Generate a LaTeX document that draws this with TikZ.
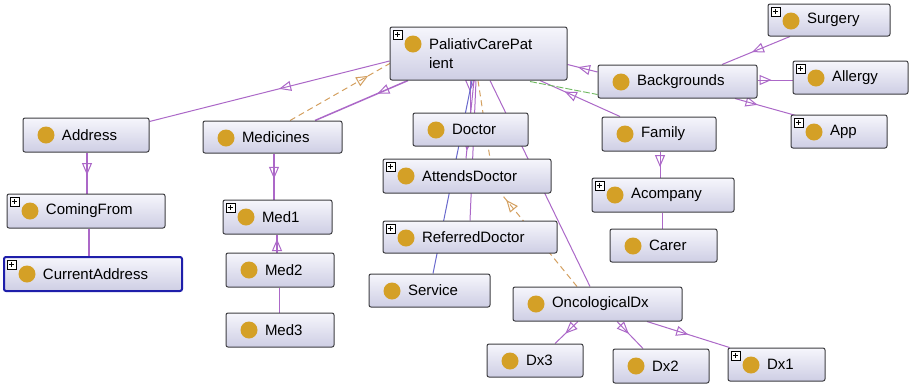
\documentclass[tikz,border=0pt]{standalone}
\usepackage{fontspec}
\setmainfont{Liberation Sans}
\usepackage{tikz}
\usetikzlibrary{arrows.meta,calc,decorations.markings}
\definecolor{edgePurple}{RGB}{172,104,200}
\definecolor{dashOrange}{RGB}{212,160,96}
\definecolor{linkGreen}{RGB}{110,185,95}
\definecolor{serviceBlue}{RGB}{105,105,205}
\definecolor{dotGold}{RGB}{212,160,38}
\definecolor{boxTop}{RGB}{246,246,252}
\definecolor{boxBottom}{RGB}{206,206,228}
\definecolor{boxBorder}{RGB}{62,62,66}
\definecolor{selBlue}{RGB}{30,30,170}
\newcommand{\lbl}[1]{\hspace*{39pt}#1}
\newcommand{\dotpic}{\fill[dotGold] ([xshift=23pt,yshift=-17pt]path picture bounding box.north west) circle (8.5pt);}
\newcommand{\pluspic}{%
  \draw[black,line width=0.6pt,fill=white,sharp corners] ([xshift=3pt,yshift=-3pt]path picture bounding box.north west) rectangle ++(9pt,-9pt);
  \draw[black,line width=0.8pt] ([xshift=4.8pt,yshift=-7.5pt]path picture bounding box.north west) -- ++(5.4pt,0pt);
  \draw[black,line width=0.8pt] ([xshift=7.5pt,yshift=-4.8pt]path picture bounding box.north west) -- ++(0pt,-5.4pt);}
\pgfdeclarelayer{bg}
\pgfsetlayers{bg,main}
\tikzset{
  font=\fontsize{15}{19}\selectfont,
  opentri/.tip={Triangle[open,length=12pt,width=10pt,line width=1pt]},
  cls/.style={draw=boxBorder,line width=1pt,rounded corners=2pt,top color=boxTop,bottom color=boxBottom,text width=#1,align=left,inner xsep=0pt,inner ysep=2pt,minimum height=33pt,path picture={\dotpic}},
  clsplus/.style={cls=#1,path picture={\dotpic\pluspic}},
  link/.style={edgePurple,line width=1pt},
  isa/.style={link,postaction={decorate},decoration={markings,mark=at position #1 with {\arrow{opentri}}}},
  dashlink/.style={dashOrange,line width=1pt,dash pattern=on 6pt off 4pt},
  dashisa/.style={dashlink,postaction={decorate},decoration={markings,mark=at position #1 with {\arrow{opentri}}}},
}
\begin{document}
\begin{tikzpicture}[x=1pt,y=-1pt]
  \useasboundingbox (0,0) rectangle (912,384);
  % classes
  \node (patient) [clsplus=177pt,minimum height=53pt] at (478.5,53.5) {\lbl{PaliativCarePat}\\\lbl{ient}};
  \node (surgery) [clsplus=122pt,minimum height=32pt] at (829,20) {\lbl{Surgery}};
  \node (backgrounds) [cls=159pt] at (677.5,81.5) {\lbl{Backgrounds}};
  \node (allergy) [clsplus=115pt] at (850.5,77.5) {\lbl{Allergy}};
  \node (app) [clsplus=96pt] at (839,131.5) {\lbl{App}};
  \node (family) [cls=114pt,minimum height=34pt] at (659,134) {\lbl{Family}};
  \node (acompany) [clsplus=142pt,minimum height=34pt] at (663,195) {\lbl{Acompany}};
  \node (carer) [cls=107pt] at (663.5,245.5) {\lbl{Carer}};
  \node (address) [cls=126pt,minimum height=34pt] at (86,135) {\lbl{Address}};
  \node (comingfrom) [clsplus=158pt,minimum height=34pt] at (86,211) {\lbl{ComingFrom}};
  \node (currentaddress) [clsplus=178pt,minimum height=34pt,draw=selBlue,line width=2pt] at (93,274) {\lbl{CurrentAddress}};
  \node (medicines) [cls=139pt,minimum height=32pt] at (272.5,137) {\lbl{Medicines}};
  \node (med1) [clsplus=109pt,minimum height=34pt] at (277.5,217) {\lbl{Med1}};
  \node (med2) [cls=108pt,minimum height=34pt] at (280,270) {\lbl{Med2}};
  \node (med3) [cls=108pt,minimum height=34pt] at (280,330) {\lbl{Med3}};
  \node (doctor) [cls=115pt] at (470.5,129.5) {\lbl{Doctor}};
  \node (attendsdoctor) [clsplus=168pt,minimum height=34pt] at (467,176) {\lbl{AttendsDoctor}};
  \node (referreddoctor) [clsplus=174pt,minimum height=32pt] at (470,237) {\lbl{ReferredDoctor}};
  \node (service) [cls=121pt] at (429.5,290.5) {\lbl{Service}};
  \node (oncologicaldx) [cls=169pt,minimum height=34pt] at (597.5,304) {\lbl{OncologicalDx}};
  \node (dx3) [cls=96pt] at (535,360.5) {\lbl{Dx3}};
  \node (dx2) [cls=96pt,minimum height=34pt] at (661,366) {\lbl{Dx2}};
  \node (dx1) [clsplus=97pt] at (776.5,364.5) {\lbl{Dx1}};
  % links
  \begin{pgfonlayer}{bg}
    \fill[white] (0,0) rectangle (912,384);
    \draw [isa=0.65] ($(backgrounds.west)+(0,-9.5)$) -- ($(patient.east)+(0,11)$);
    \draw [isa=0.69] ($(family.north)+(-39,0)$) -- ($(patient.south)+(61.5,0)$);
    \draw [linkGreen,line width=0.9pt,dash pattern=on 7pt off 2pt] ($(patient.south)+(51.5,1)$) -- ($(backgrounds.south west)+(0,-4)$);
    \draw [isa=0.46] ($(patient.west)+(0,7.5)$) -- ($(address.north east)+(0,4)$);
    \draw [isa=0.33,line width=1.5pt] ($(patient.south)+(-70.5,0)$) -- ($(medicines.north)+(42.5,0)$);
    \draw [dashisa=0.77] ($(medicines.north)+(17.5,0)$) -- ($(patient.west)+(2,9)$);
    \draw [isa=0.35] ($(patient.south)+(-8.5,0)$) -- ($(doctor.north)+(-0.5,0)$);
    \draw [isa=0.9] ($(patient.south)+(-4.5,0)$) -- ($(attendsdoctor.north)+(-1,0)$);
    \draw [link] ($(patient.south)+(-2.5,0)$) -- (referreddoctor.north);
    \draw [serviceBlue,line width=1pt] ($(patient.south)+(-6.5,0)$) -- ($(service.north)+(3.5,0)$);
    \draw [link] ($(patient.south)+(11.5,0)$) -- ($(oncologicaldx.north)+(-7.5,0)$);
    \draw [dashlink] ($(patient.south)+(-0.5,0)$) -- ($(attendsdoctor.north)+(23,0)$);
    \draw [dashisa=0.93] ($(oncologicaldx.north)+(-20.5,0)$) -- ($(attendsdoctor.south)+(34,0)$);
    \draw [isa=0.55,line width=2pt] ($(address.south)+(1,0)$) -- ($(comingfrom.north)+(1,0)$);
    \draw [link,line width=2pt] ($(comingfrom.south)+(3,0)$) -- ($(currentaddress.north)+(-4,0)$);
    \draw [isa=0.55,line width=1.5pt] ($(medicines.south)+(1.5,0)$) -- ($(med1.north)+(-3.5,0)$);
    \draw [isa=0.75,line width=1.5pt] ($(med2.north)+(-3,0)$) -- ($(med1.south)+(-0.5,0)$);
    \draw [link] ($(med2.south)+(-1,0)$) -- ($(med3.north)+(-1,0)$);
    \draw [isa=0.6] ($(family.south)+(1,0)$) -- ($(acompany.north)+(-3,0)$);
    \draw [link] ($(acompany.south)+(-1,0)$) -- ($(carer.north)+(-1.5,0)$);
    \draw [isa=0.56] ($(surgery.south)+(-39,0)$) -- ($(backgrounds.north)+(44.5,0)$);
    \draw [isa=0.4] ($(backgrounds.east)+(0,-1.5)$) -- ($(allergy.west)+(0,2.5)$);
    \draw [isa=0.35] ($(backgrounds.south)+(57.5,0)$) -- ($(app.north west)+(9,2)$);
    \draw [isa=0.55] ($(oncologicaldx.south)+(-19.5,0)$) -- ($(dx3.north)+(20,0)$);
    \draw [isa=0.45] ($(oncologicaldx.south)+(19.5,0)$) -- ($(dx2.north)+(-18,0)$);
    \draw [isa=0.5] ($(oncologicaldx.south)+(49.5,0)$) -- ($(dx1.north west)+(2,0)$);
  \end{pgfonlayer}
\end{tikzpicture}
\end{document}
